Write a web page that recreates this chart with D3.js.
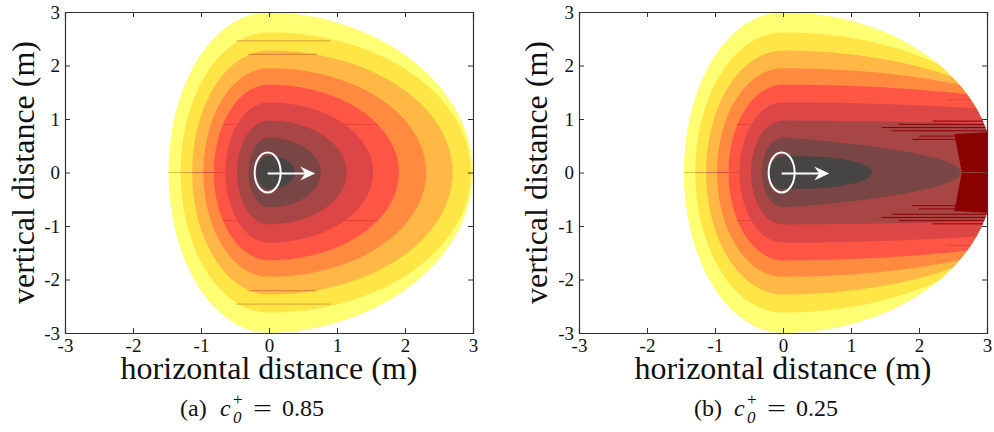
<!DOCTYPE html>
<html lang="en">
<head>
<meta charset="utf-8">
<title>personal space contours</title>
<script src="https://d3js.org/d3.v7.min.js"></script>
<style>
  body { margin: 0; background: #fff; }
  text { font-family: "Liberation Serif", "Times New Roman", serif; fill: #111; }
  .axis-label { font-size: 32px; }
  .caption { font-size: 24px; }
</style>
</head>
<body>
<svg id="chart" width="994" height="432"></svg>
<script>

// contour levels, outermost first
const levels = [1, 2, 3, 4, 5, 6, 7, 8, 9];
const levelColors = ['#ffff73', '#ffe545', '#ffb845', '#ff8a40', '#ff5545', '#dc4646', '#a84545', '#7a4545', '#474444'];

// half height of every level at x = 0 (same in both panels)
const halfHeight = [3.0, 2.62, 2.28, 1.95, 1.64, 1.31, 0.97, 0.65, 0.31];

// panel (a): reach behind and in front along y = 0, front shape exponent
const backA = [-1.48, -1.30, -1.13, -0.965, -0.81, -0.64, -0.47, -0.30, -0.18];
const frontA = [3.0, 2.97, 2.70, 2.31, 1.91, 1.53, 1.14, 0.76, 0.38];
const tipA = [1.9, 2, 2, 2, 2, 2, 2, 2, 2];

// panel (b)
const backB = [-1.46, -1.29, -1.13, -0.97, -0.80, -0.64, -0.47, -0.31, -0.20];
const frontB = [3.1, 3.6, 4.0, 4.8, 6.0, 7.0, 8.0, 2.61, 1.31];
const tipB = [2, 2, 2, 2, 2, 2, 2, 1.2, 2.5];

// saturated region at the front of panel (b)
const maroonB = [[2.52, 0.72], [3.1, 0.76], [3.1, -0.76], [2.52, -0.72], [2.63, 0]];

// rendering streaks [y, x0, x1, level] (mirrored about y = 0)
const streaksA = [[0.90, -0.68, -0.48, 4], [0.90, 1.12, 1.60, 4], [2.21, -0.30, 0.70, 3], [2.46, -0.48, 0.90, 2]];
const streaksB = [[0.90, -0.68, -0.48, 4], [0.0, 2.62, 3.0, 6],
  [0.62, 1.9, 3.0, 9], [0.68, 2.0, 3.0, 9], [0.78, 1.6, 3.0, 9], [0.84, 1.45, 3.0, 9],
  [0.90, 1.7, 3.0, 9], [0.96, 2.2, 3.0, 9], [1.03, 2.6, 3.0, 4], [1.36, 2.40, 3.0, 4]];

const ticks = [-3, -2, -1, 0, 1, 2, 3];
const captions = ['(a)', '(b)'];
const c0 = ['0.85', '0.25'];
const arrowEnd = [0.68, 0.68];

const panels = [
  {back: backA, front: frontA, tip: tipA, maroon: null, streaks: streaksA, x0: 65, x1: 473, lab: 34},
  {back: backB, front: frontB, tip: tipB, maroon: maroonB, streaks: streaksB, x0: 579, x1: 987, lab: 547}
];

const plotTop = 12, plotBottom = 333;
const svg = d3.select('#chart');
const streakColor = i => i === 9 ? '#8b0000' : d3.color(levelColors[i]).darker(0.4);

// closed outline: ellipse behind, stretched curve in front
function outline(back, front, h, p) {
  return d3.range(0, 360, 2).map(a => {
    const t = a * Math.PI / 180, c = Math.cos(t), s = Math.sin(t);
    const x = c >= 0 ? front * Math.pow(c, 2 / p) : -back * c;
    return [x, h * s];
  });
}

panels.forEach((pn, k) => {
  const x = d3.scaleLinear().domain([-3, 3]).range([pn.x0, pn.x1]);
  const y = d3.scaleLinear().domain([-3, 3]).range([plotBottom, plotTop]);
  const line = d3.line().x(d => x(d[0])).y(d => y(d[1])).curve(d3.curveLinearClosed);

  const g = svg.append('g');
  const defs = svg.append('defs');
  defs.append('clipPath').attr('id', 'clip' + k)
    .append('path')
    .attr('d', line(outline(pn.back[0], pn.front[0], halfHeight[0], pn.tip[0])));
  defs.append('clipPath').attr('id', 'box' + k)
    .append('rect').attr('x', pn.x0).attr('y', plotTop)
    .attr('width', pn.x1 - pn.x0).attr('height', plotBottom - plotTop);

  const field = g.append('g').attr('clip-path', `url(#box${k})`)
    .append('g').attr('clip-path', `url(#clip${k})`);

  levels.forEach((lv, i) => {
    if (i === 7 && pn.maroon) {
      field.append('path').attr('d', line(pn.maroon)).attr('fill', '#8b0000');
    }
    field.append('path')
      .attr('d', line(outline(pn.back[i], pn.front[i], halfHeight[i], pn.tip[i])))
      .attr('fill', levelColors[i]);
  });

  // streak along y = 0 behind the walker
  field.selectAll('.mid')
    .data(d3.range(0, 6))
    .join('line')
    .attr('x1', i => x(pn.back[i])).attr('x2', i => x(pn.back[i + 1]))
    .attr('y1', y(0)).attr('y2', y(0))
    .attr('stroke', i => streakColor(Math.min(i + 1, 4)))
    .attr('stroke-width', 1.2);

  const st = pn.streaks.flatMap(d => [d, [-d[0], d[1], d[2], d[3]]]);
  field.selectAll('.streak')
    .data(st)
    .join('line')
    .attr('x1', d => x(d[1])).attr('x2', d => x(d[2]))
    .attr('y1', d => y(d[0])).attr('y2', d => y(d[0]))
    .attr('stroke', d => streakColor(d[3]))
    .attr('stroke-width', 1);

  // walker and heading
  g.append('ellipse')
    .attr('cx', x(-0.02)).attr('cy', y(0))
    .attr('rx', 13).attr('ry', 20)
    .attr('fill', 'none').attr('stroke', '#fff').attr('stroke-width', 2);
  const ax = x(arrowEnd[k]);
  g.append('line')
    .attr('x1', x(-0.02)).attr('x2', ax - 6)
    .attr('y1', y(0) + 1).attr('y2', y(0) + 1)
    .attr('stroke', '#fff').attr('stroke-width', 2);
  g.append('path')
    .attr('d', `M${ax},${y(0) + 1} L${ax - 15},${y(0) - 6} L${ax - 10},${y(0) + 1} L${ax - 15},${y(0) + 8} Z`)
    .attr('fill', '#fff');

  // axes box with inward ticks
  const fmt = d => String(d);
  const ax1 = g.append('g').attr('transform', `translate(0,${plotBottom})`)
    .call(d3.axisBottom(x).tickValues(ticks).tickSize(-5).tickPadding(6).tickFormat(fmt));
  const ax2 = g.append('g').attr('transform', `translate(${pn.x0},0)`)
    .call(d3.axisLeft(y).tickValues(ticks).tickSize(-5).tickPadding(5).tickFormat(fmt));
  const ax3 = g.append('g').attr('transform', `translate(0,${plotTop})`)
    .call(d3.axisTop(x).tickValues(ticks).tickSize(-5).tickFormat(''));
  const ax4 = g.append('g').attr('transform', `translate(${pn.x1},0)`)
    .call(d3.axisRight(y).tickValues(ticks).tickSize(-5).tickFormat(''));
  [ax1, ax2, ax3, ax4].forEach(a => {
    a.attr('font-family', '"Liberation Serif", "Times New Roman", serif').attr('font-size', 19);
    a.select('.domain').attr('stroke', '#333').attr('stroke-width', 1.2);
    a.selectAll('.tick line').attr('stroke', '#333');
    a.selectAll('.tick text').attr('fill', '#111');
  });

  // axis titles
  g.append('text').attr('class', 'axis-label')
    .attr('x', (pn.x0 + pn.x1) / 2).attr('y', 379)
    .attr('text-anchor', 'middle')
    .text('horizontal distance (m)');
  g.append('text').attr('class', 'axis-label')
    .attr('transform', `translate(${pn.lab},${(plotTop + plotBottom) / 2}) rotate(-90)`)
    .attr('text-anchor', 'middle')
    .text('vertical distance (m)');

  // caption  (a) c0+ = 0.85
  const cx = (pn.x0 + pn.x1) / 2 - 16 - 73;
  const cap = g.append('g').attr('class', 'caption');
  cap.append('text').attr('x', cx).attr('y', 416).text(captions[k]);
  cap.append('text').attr('x', cx + 40).attr('y', 416).attr('font-style', 'italic').text('c');
  cap.append('text').attr('x', cx + 53).attr('y', 405).attr('font-size', 17).text('+');
  cap.append('text').attr('x', cx + 53).attr('y', 423).attr('font-size', 17).attr('font-style', 'italic').text('0');
  cap.append('text').attr('x', cx + 73).attr('y', 416)
    .attr('textLength', 19).attr('lengthAdjust', 'spacingAndGlyphs').text('=');
  cap.append('text').attr('x', cx + 102).attr('y', 416).text(c0[k]);
});

</script>
</body>
</html>
